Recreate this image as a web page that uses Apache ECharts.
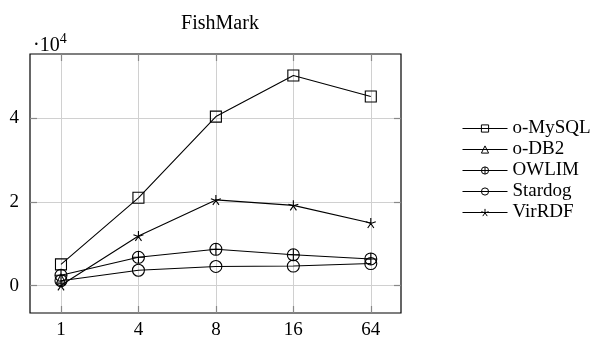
<!DOCTYPE html>
<html>
<head>
<meta charset="utf-8">
<script src="https://cdn.jsdelivr.net/npm/echarts@6/dist/echarts.min.js"></script>
<style>html,body{margin:0;padding:0;background:#fff;}#c{width:603px;height:340px;}</style>
</head>
<body>
<div id="c"></div>
<script>
var categories = ['1', '4', '8', '16', '64'];
var mysql   = [5100, 21000, 40400, 50200, 45200];
var db2     = [1700, null, null, null, null];
var owlim   = [2500, 6800, 8700, 7400, 6400];
var stardog = [1200, 3700, 4600, 4700, 5300];
var virrdf  = [100, 11900, 20500, 19200, 15000];
var yTicks = [0, 20000, 40000];

var FONT = 'Liberation Serif';
var circlePlus = 'path://M0,-10 A10,10 0 1 1 0,10 A10,10 0 1 1 0,-10 Z M-10,0 L10,0 M0,-10 L0,10';
var starPath = 'path://M0,0 L0,-10 M0,0 L9.51,-3.09 M0,0 L5.88,8.09 M0,0 L-5.88,8.09 M0,0 L-9.51,-3.09';

function pts(arr) { return arr.map(function (v, i) { return [i, v]; }); }
function mk(name, arr, symbol, size) {
  return {
    name: name, type: 'line', data: pts(arr), symbol: symbol, symbolSize: size,
    showAllSymbol: true, connectNulls: false, xAxisIndex: 0, yAxisIndex: 0,
    lineStyle: { color: '#000', width: 1.1 },
    itemStyle: { color: 'rgba(255,255,255,0)', borderColor: '#000', borderWidth: 1.1 },
    emphasis: { disabled: true }, animation: false
  };
}

var chart = echarts.init(document.getElementById('c'), null, { renderer: 'canvas' });
var xCommon = { type: 'value', min: -0.4, max: 4.39 };
var yCommon = { type: 'value', min: -6510, max: 55350 };
var tickStyle = { color: '#888', width: 1.2 };
chart.setOption({
  animation: false,
  title: [
    { text: 'FishMark', left: 215, top: 9, textAlign: 'center',
      textStyle: { fontFamily: FONT, fontSize: 20, fontWeight: 'normal', color: '#000' } },
    { text: '{a|·10}{b|4}', left: 28, top: 27,
      textStyle: { fontWeight: 'normal', rich: {
        a: { fontFamily: FONT, fontSize: 20, fontWeight: 'normal', color: '#000', verticalAlign: 'bottom', lineHeight: 24 },
        b: { fontFamily: FONT, fontSize: 14, fontWeight: 'normal', color: '#000', verticalAlign: 'top', lineHeight: 24 }
      } } }
  ],
  grid: { left: 30, right: 202, top: 54, bottom: 21, show: true, borderColor: '#000', borderWidth: 1.2, containLabel: false },
  legend: {
    orient: 'vertical', left: 462, top: 119, padding: 0, itemWidth: 45, itemHeight: 9, itemGap: 2,
    textStyle: { fontFamily: FONT, fontSize: 19, lineHeight: 19, color: '#000' },
    lineStyle: { width: 1 },
    itemStyle: { borderWidth: 1 },
    data: ['o-MySQL', 'o-DB2', 'OWLIM', 'Stardog', 'VirRDF']
  },
  xAxis: [
    Object.assign({}, xCommon, {
      position: 'bottom',
      axisLine: { show: false, onZero: false },
      axisTick: { show: true, inside: true, length: 7, customValues: [0, 1, 2, 3, 4], lineStyle: tickStyle },
      axisLabel: { customValues: [0, 1, 2, 3, 4], margin: 8, fontFamily: FONT, fontSize: 19, color: '#000',
        formatter: function (v) { return categories[Math.round(v)]; } },
      splitLine: { show: true, lineStyle: { color: '#d0d0d0', width: 1 } }
    }),
    Object.assign({}, xCommon, {
      position: 'top',
      axisLine: { show: false, onZero: false },
      axisTick: { show: true, inside: true, length: 7, customValues: [0, 1, 2, 3, 4], lineStyle: tickStyle },
      axisLabel: { show: false },
      splitLine: { show: false }
    })
  ],
  yAxis: [
    Object.assign({}, yCommon, {
      position: 'left',
      axisLine: { show: false, onZero: false },
      axisTick: { show: true, inside: true, length: 7, customValues: yTicks, lineStyle: tickStyle },
      axisLabel: { customValues: yTicks, margin: 11, fontFamily: FONT, fontSize: 19, color: '#000',
        formatter: function (v) { return String(v / 10000); } },
      splitLine: { show: true, lineStyle: { color: '#d0d0d0', width: 1 } }
    }),
    Object.assign({}, yCommon, {
      position: 'right',
      axisLine: { show: false, onZero: false },
      axisTick: { show: true, inside: true, length: 7, customValues: yTicks, lineStyle: tickStyle },
      axisLabel: { show: false },
      splitLine: { show: false }
    })
  ],
  series: [
    mk('o-MySQL', mysql, 'rect', 11),
    mk('o-DB2', db2, 'triangle', 9),
    mk('OWLIM', owlim, circlePlus, 12),
    mk('Stardog', stardog, 'circle', 12),
    mk('VirRDF', virrdf, starPath, 10)
  ]
});
</script>
</body>
</html>
